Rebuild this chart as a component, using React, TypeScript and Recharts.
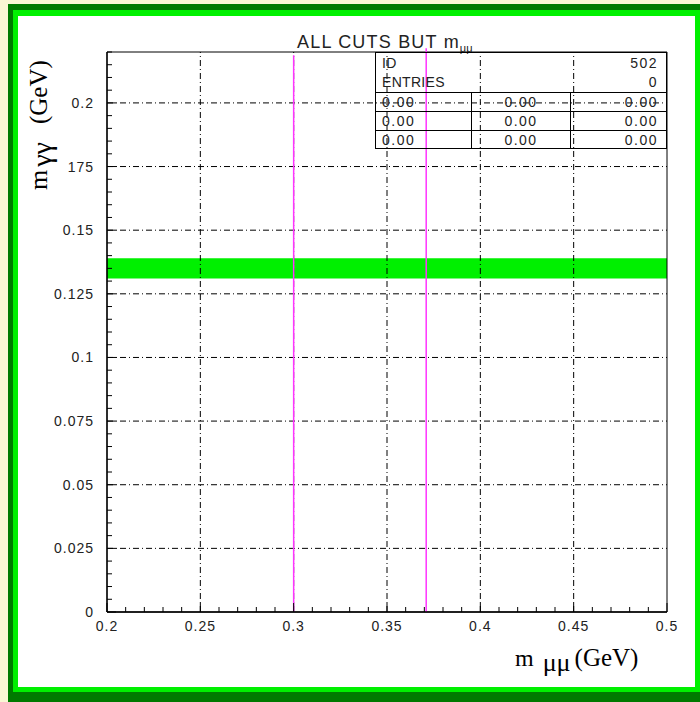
import React from 'react';
import { ComposedChart, XAxis, YAxis, ReferenceArea, ReferenceLine } from 'recharts';

const xMajorTicks = [0.2, 0.25, 0.3, 0.35, 0.4, 0.45, 0.5];
const xTickLabels = ['0.2', '0.25', '0.3', '0.35', '0.4', '0.45', '0.5'];
const yMajorTicks = [0, 0.025, 0.05, 0.075, 0.1, 0.125, 0.15, 0.175, 0.2];
const yTickLabels = ['0', '0.025', '0.05', '0.075', '0.1', '0.125', '0.15', '175', '0.2'];
const xDomain: [number, number] = [0.2, 0.5];
const yDomain: [number, number] = [0, 0.22];
const xMinorStep = 0.01;
const yMinorStep = 0.005;
const band = { low: 0.131, high: 0.139 };
const cutValues = [0.3, 0.371];
const cutTops = [0.2187, 0.2215];
const statsNames = ['ID', 'ENTRIES'];
const statsValues = ['502', '0'];
const statsRows = [
  ['0.00', '0.00', '0.00'],
  ['0.00', '0.00', '0.00'],
  ['0.00', '0.00', '0.00'],
];
const titleMain = 'ALL CUTS BUT m';
const titleSub = 'μμ';

const makeTicks = (lo: number, hi: number, step: number) => {
  const out: number[] = [];
  const n = Math.round((hi - lo) / step);
  for (let i = 0; i <= n; i++) out.push(Math.round((lo + i * step) * 10000) / 10000);
  return out;
};
const xAllTicks = makeTicks(xDomain[0], xDomain[1], xMinorStep);
const yAllTicks = makeTicks(yDomain[0], yDomain[1], yMinorStep);

const findIdx = (arr: number[], v: number) => arr.findIndex((t) => Math.abs(t - v) < 1e-7);

const tickFont = { fontFamily: '"Liberation Sans", Arial, sans-serif', fontSize: 14, fill: '#222', letterSpacing: 1 };

const XTick = (props: any) => {
  const { x, y, payload } = props;
  const idx = findIdx(xMajorTicks, payload.value);
  const major = idx >= 0;
  return (
    <g>
      <line x1={x} x2={x} y1={y} y2={y - (major ? 9 : 5)} stroke="#000" strokeWidth={1} />
      {major && (
        <text x={x} y={y + 19} textAnchor="middle" {...tickFont}>
          {xTickLabels[idx]}
        </text>
      )}
    </g>
  );
};

const YTick = (props: any) => {
  const { x, y, payload } = props;
  const idx = findIdx(yMajorTicks, payload.value);
  const major = idx >= 0;
  return (
    <g>
      <line x1={x} x2={x + (major ? 9 : 5)} y1={y} y2={y} stroke="#000" strokeWidth={1} />
      {major && (
        <text x={x - 13} y={y + 5} textAnchor="end" {...tickFont}>
          {yTickLabels[idx]}
        </text>
      )}
    </g>
  );
};

const gridDash = '6 3 1 3';
const hGrid = yMajorTicks.filter((v) => v > yDomain[0] && v < yDomain[1]);
const vGrid = xMajorTicks.filter((v) => v > xDomain[0] && v < xDomain[1]);

const statFont = { fontFamily: '"Liberation Sans", Arial, sans-serif', fontSize: 14, fill: '#222', letterSpacing: 0.3 };
const statNumFont = { ...statFont, letterSpacing: 1.5 };
const rowBase = [107, 126, 145];

export default function App() {
  return (
    <div style={{ position: 'absolute', left: 0, top: 0, width: 700, height: 702, background: '#FAF7D4', overflow: 'hidden' }}>
      <div style={{ position: 'absolute', left: 8, top: 4, width: 700, height: 700, background: '#007A00' }} />
      <div style={{ position: 'absolute', left: 13, top: 10, width: 700, height: 682, background: '#00F000' }} />
      <div style={{ position: 'absolute', left: 18, top: 16, width: 677, height: 671, background: '#FFFFFF' }} />
      <div style={{ position: 'absolute', left: 0, top: 0 }}>
        <ComposedChart width={700} height={702} margin={{ top: 52, right: 33, bottom: 60, left: 47 }}>
          <XAxis
            type="number"
            dataKey="x"
            domain={xDomain}
            ticks={xAllTicks}
            interval={0}
            allowDataOverflow
            tickSize={0}
            tickMargin={0}
            tick={<XTick />}
            axisLine={{ stroke: '#000', strokeWidth: 1.3 }}
            tickLine={false}
            height={30}
          />
          <YAxis
            type="number"
            dataKey="y"
            domain={yDomain}
            ticks={yAllTicks}
            interval={0}
            allowDataOverflow
            tickSize={0}
            tickMargin={0}
            tick={<YTick />}
            axisLine={{ stroke: '#000', strokeWidth: 1.3 }}
            tickLine={false}
            width={60}
          />
          {hGrid.map((v) => (
            <ReferenceLine key={'h' + v} y={v} stroke="#000" strokeWidth={1} strokeDasharray={gridDash} />
          ))}
          {vGrid.map((v) => (
            <ReferenceLine key={'v' + v} x={v} stroke="#000" strokeWidth={1} strokeDasharray={gridDash} />
          ))}
          <ReferenceArea
            x1={xDomain[0]}
            x2={xDomain[1]}
            y1={band.low}
            y2={band.high}
            fill="#00F000"
            fillOpacity={1}
            stroke="none"
          />
          {cutValues.map((v, i) => (
            <ReferenceLine
              key={'c' + v}
              segment={[{ x: v, y: yDomain[0] }, { x: v, y: cutTops[i] }]}
              stroke="#FF33FF"
              strokeWidth={1.5}
              ifOverflow="visible"
            />
          ))}
          <ReferenceArea
            x1={xDomain[0]}
            x2={xDomain[1]}
            y1={yDomain[0]}
            y2={yDomain[1]}
            fill="none"
            stroke="#000"
            strokeWidth={1}
            ifOverflow="visible"
          />
        </ComposedChart>
      </div>
      <svg width={700} height={702} style={{ position: 'absolute', left: 0, top: 0, pointerEvents: 'none' }}>
        <text x={297} y={48} fontFamily='"Liberation Sans", Arial, sans-serif' fontSize={18} fill="#222" letterSpacing={1.2}>
          {titleMain}
          <tspan fontSize={11} dy={4} letterSpacing={0}>{titleSub}</tspan>
        </text>
        <g stroke="#000" strokeWidth={1} fill="none">
          <rect x={375.5} y={52.5} width={291} height={96} />
          <line x1={375} x2={667} y1={92.5} y2={92.5} />
          <line x1={375} x2={667} y1={111.5} y2={111.5} />
          <line x1={375} x2={667} y1={130.5} y2={130.5} />
          <line x1={471.5} x2={471.5} y1={92} y2={149} />
          <line x1={570.5} x2={570.5} y1={92} y2={149} />
        </g>
        {statsNames.map((n, i) => (
          <g key={n}>
            <text x={382} y={68 + i * 19} {...statFont}>{n}</text>
            <text x={658} y={68 + i * 19} textAnchor="end" {...statNumFont}>{statsValues[i]}</text>
          </g>
        ))}
        {statsRows.map((r, i) => (
          <g key={'r' + i}>
            <text x={382} y={rowBase[i]} {...statNumFont}>{r[0]}</text>
            <text x={521} y={rowBase[i]} textAnchor="middle" {...statNumFont}>{r[1]}</text>
            <text x={658} y={rowBase[i]} textAnchor="end" {...statNumFont}>{r[2]}</text>
          </g>
        ))}
        <text
          transform="translate(47,190) rotate(-90)"
          fontFamily='"Liberation Serif", "Times New Roman", serif'
          fontSize={26}
          fill="#000"
        >
          m
          <tspan fontSize={28} dy={4} dx={3}>γγ</tspan>
          <tspan fontSize={25} dy={-4} dx={18}>(GeV)</tspan>
        </text>
        <text x={515} y={666} fontFamily='"Liberation Serif", "Times New Roman", serif' fontSize={24} fill="#000">
          m
          <tspan dx={9} dy={5} fontSize={26}>μμ</tspan>
          <tspan dx={4} dy={-5} fontSize={25}>(GeV)</tspan>
        </text>
      </svg>
    </div>
  );
}
